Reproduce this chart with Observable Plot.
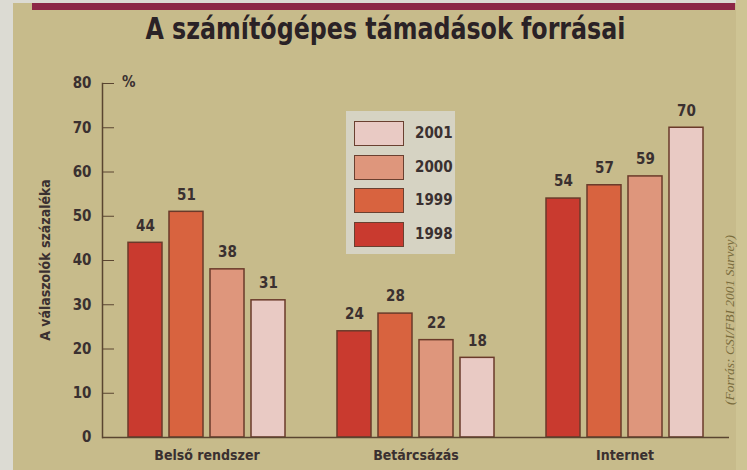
<!DOCTYPE html>
<html>
<head>
<meta charset="utf-8">
<script src="https://cdn.jsdelivr.net/npm/d3@7"></script>
<script src="https://cdn.jsdelivr.net/npm/@observablehq/plot@0.6"></script>
<style>
  html, body { margin: 0; padding: 0; }
  body { width: 747px; height: 470px; overflow: hidden; }
  #wrap { position: relative; width: 747px; height: 470px; background: #c7bb8b; overflow: hidden;
    font-family: "Liberation Sans Narrow", "DejaVu Sans Condensed", "Roboto Condensed", sans-serif; }
  #leftstrip { position: absolute; left: 0; top: 0; width: 13px; height: 470px; background: #dcdbd3; }
  #topstrip { position: absolute; left: 0; top: 0; width: 747px; height: 3px; background: #dcdbd3; }
  #rightstrip { position: absolute; left: 736px; top: 0; width: 11px; height: 470px; background: #cec494; }
  #bar { position: absolute; left: 32px; top: 3px; width: 703px; height: 7px; background: #8c2746; }
  #title { position: absolute; left: 12px; width: 747px; top: 11px; text-align: center; font-size: 30px; font-weight: bold; color: #2a2226; transform: scaleX(0.88); transform-origin: 373px 0; }
  #chart { position: absolute; left: 0; top: 60px; }
  #pct { position: absolute; left: 122px; top: 73px; font-size: 15px; font-weight: bold; color: #3a3030; }
  #ylabel { position: absolute; left: 45px; top: 260px; transform: translate(-50%, -50%) rotate(-90deg); white-space: nowrap; font-size: 14px; font-weight: bold; color: #3a3030; }
  #source { position: absolute; left: 730px; top: 320px; transform: translate(-50%, -50%) rotate(-90deg); white-space: nowrap; font-family: "Liberation Serif", "DejaVu Serif", serif; font-style: italic; font-size: 13.5px; color: #7a6c3c; }
  #legend { position: absolute; left: 346px; top: 111px; width: 109px; height: 143px; background: #d6d3c3; }
  .item { position: absolute; left: 8px; height: 26px; width: 100px; }
  .sw { position: absolute; left: 0; top: 0; width: 50px; height: 25px; border: 1.5px solid #6a4030; box-sizing: border-box; }
  .lab { position: absolute; left: 61px; top: 3px; font-size: 15px; font-weight: bold; color: #3a3030; }
</style>
</head>
<body>
<div id="wrap">
  <div id="leftstrip"></div>
  <div id="topstrip"></div>
  <div id="rightstrip"></div>
  <div id="bar"></div>
  <div id="title">A számítógépes támadások forrásai</div>
  <div id="chart"></div>
  <div id="pct">%</div>
  <div id="ylabel">A válaszolók százaléka</div>
  <div id="source">(Forrás: CSI/FBI 2001 Survey)</div>
  <div id="legend"></div>
</div>
<script>
const categories = ["Belső rendszer", "Betárcsázás", "Internet"];
const years = ["1998", "1999", "2000", "2001"];
const values1998 = [44, 24, 54];
const values1999 = [51, 28, 57];
const values2000 = [38, 22, 59];
const values2001 = [31, 18, 70];
const yTicks = [0, 10, 20, 30, 40, 50, 60, 70, 80];
const colors = ["#c93a2f", "#d8633f", "#de967c", "#e9cac4"];

const series = [values1998, values1999, values2000, values2001];
const data = [];
categories.forEach((c, i) => {
  years.forEach((y, j) => data.push({cat: c, year: y, value: series[j][i]}));
});

const ink = "#3a3030";
const chart = Plot.plot({
  width: 747,
  height: 410,
  marginTop: 23,
  marginBottom: 33,
  marginLeft: 101,
  marginRight: 17,
  style: {background: "transparent", fontFamily: "'Liberation Sans Narrow', 'DejaVu Sans Condensed', sans-serif", color: ink},
  fx: {domain: categories, padding: 0, label: null},
  x: {domain: years, paddingInner: 0.167, paddingOuter: 0.583, axis: null},
  y: {domain: [0, 80], axis: null},
  color: {domain: years, range: colors},
  marks: [
    Plot.barY(data, {fx: "cat", x: "year", y: "value", fill: "year", stroke: "#6a3a2a", strokeWidth: 1.5}),
    Plot.text(data, {fx: "cat", x: "year", y: "value", text: d => String(d.value), dy: -17, fontSize: 15, fontWeight: "bold", fill: ink}),
    Plot.ruleY([0], {stroke: "#5a4530", strokeWidth: 1.5}),
    Plot.frame({anchor: "left", facetAnchor: "left", stroke: "#5a4530", strokeWidth: 1.5}),
    Plot.axisY(yTicks, {anchor: "left", tickSize: -12, tickPadding: 23, label: null, fontSize: 15, fontWeight: "bold", stroke: "#5a4530", fill: ink}),
    Plot.axisFx({anchor: "bottom", tickSize: 0, tickPadding: 13, label: null, fontSize: 14, fontWeight: "bold", fill: ink})
  ]
});
document.getElementById("chart").appendChild(chart);

// legend (top to bottom: newest first)
const legend = document.getElementById("legend");
const order = years.slice().reverse();
order.forEach((y, k) => {
  const item = document.createElement("div");
  item.className = "item";
  item.style.top = (10 + k * 33.5) + "px";
  const sw = document.createElement("div");
  sw.className = "sw";
  sw.style.background = colors[years.indexOf(y)];
  const lab = document.createElement("div");
  lab.className = "lab";
  lab.textContent = y;
  item.appendChild(sw);
  item.appendChild(lab);
  legend.appendChild(item);
});
</script>
</body>
</html>
